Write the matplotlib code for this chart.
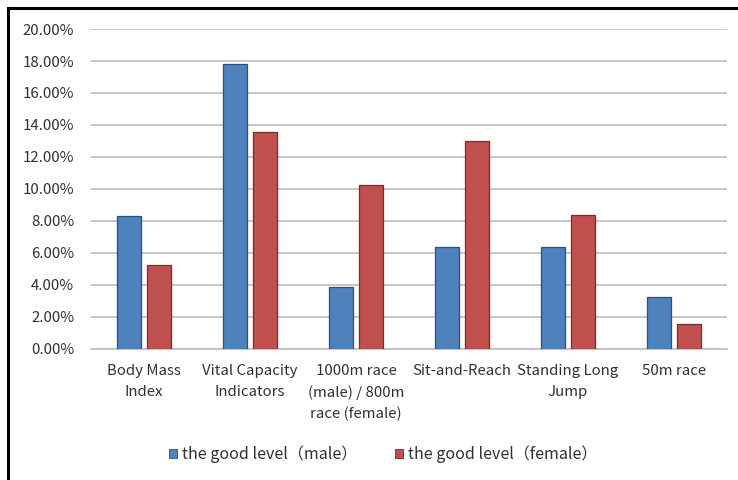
import matplotlib
matplotlib.use("Agg")
import matplotlib.pyplot as plt
import numpy as np
from matplotlib.patches import Patch
from matplotlib.ticker import FuncFormatter, MultipleLocator
from matplotlib.lines import Line2D

plt.rcParams['font.family'] = ['Noto Sans CJK SC', 'DejaVu Sans']

categories = [
    "Body Mass\nIndex",
    "Vital Capacity\nIndicators",
    "1000m race\n(male) / 800m\nrace (female)",
    "Sit-and-Reach",
    "Standing Long\nJump",
    "50m race",
]
male = [8.30, 17.80, 3.90, 6.38, 6.38, 3.25]
female = [5.27, 13.55, 10.25, 13.00, 8.40, 1.58]
series_names = ["the good level\uff08male\uff09", "the good level\uff08female\uff09"]

blue, blue_edge = "#4F81BD", "#2F4F78"
red, red_edge = "#C0504D", "#7A2A28"
grid_color = "#BEBEBE"
text_color = "#303030"

W, H = 738, 480
fig = plt.figure(figsize=(W / 100, H / 100), dpi=100)
ax = fig.add_axes([91 / W, 131 / H, (727 - 91) / W, (349 - 29) / H])

x = np.arange(len(categories))
bw = 0.225
off = 0.142
ax.bar(x - off, male, width=bw, color=blue, edgecolor=blue_edge, linewidth=0.9, zorder=3)
ax.bar(x + off, female, width=bw, color=red, edgecolor=red_edge, linewidth=0.9, zorder=3)

ax.set_xlim(-0.5, len(categories) - 0.5)
ax.set_ylim(0, 20)
ax.yaxis.set_major_locator(MultipleLocator(2))
ax.yaxis.set_major_formatter(FuncFormatter(lambda v, p: f"{v:.2f}%"))
ax.grid(axis="y", color=grid_color, linewidth=1.2, zorder=0)
ax.set_axisbelow(True)
for s in ["top", "right", "left"]:
    ax.spines[s].set_visible(False)
ax.spines["bottom"].set_color(grid_color)
ax.spines["bottom"].set_linewidth(1.2)
ax.tick_params(axis="y", length=0, pad=12, labelsize=10.8, labelcolor=text_color)
ax.tick_params(axis="x", length=0, pad=11, labelsize=10.8, labelcolor=text_color)
ax.set_xticks(x)
ax.set_xticklabels(categories, linespacing=1.6)

handles = [Patch(facecolor=blue, edgecolor=blue_edge, linewidth=0.6),
           Patch(facecolor=red, edgecolor=red_edge, linewidth=0.6)]
fig.legend(handles, series_names, loc="center", bbox_to_anchor=(383 / W, 1 - 454 / H),
           ncol=2, frameon=False, fontsize=11.5, handlelength=0.5, handleheight=0.5,
           handletextpad=0.3, columnspacing=2.4, labelcolor=text_color)

# frame lines along the top and left edges
fig.add_artist(Line2D([7.5 / W, 1], [1 - 7.5 / H, 1 - 7.5 / H], color="black", linewidth=2.2,
                      transform=fig.transFigure))
fig.add_artist(Line2D([7.5 / W, 7.5 / W], [0, 1 - 7.5 / H], color="black", linewidth=2.2,
                      transform=fig.transFigure))

fig.savefig("out.png", dpi=100)
